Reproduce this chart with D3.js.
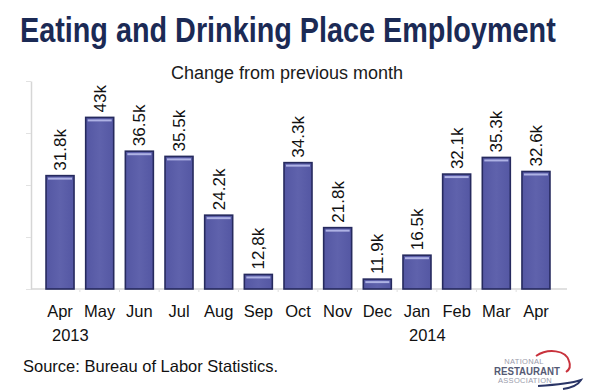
<!DOCTYPE html>
<html>
<head>
<meta charset="utf-8">
<script src="https://cdn.jsdelivr.net/npm/d3@7"></script>
<style>
  html, body { margin: 0; padding: 0; background: #fff; }
  svg { display: block; font-family: "Liberation Sans", Arial, sans-serif; }
</style>
</head>
<body>
<svg id="chart" width="600" height="390"></svg>
<script>
// ---- data ----
const months = ["Apr", "May", "Jun", "Jul", "Aug", "Sep", "Oct", "Nov", "Dec", "Jan", "Feb", "Mar", "Apr"];
const years = ["2013", "", "", "", "", "", "", "", "", "2014", "", "", ""];
const values = [31.8, 43, 36.5, 35.5, 24.2, 12.8, 34.3, 21.8, 11.9, 16.5, 32.1, 35.3, 32.6];
const valueLabels = ["31.8k", "43k", "36.5k", "35.5k", "24.2k", "12,8k", "34.3k", "21.8k", "11.9k", "16.5k", "32.1k", "35.3k", "32.6k"];
const yTicks = [10, 20, 30, 40, 50];
const title = "Eating and Drinking Place Employment";
const subtitle = "Change from previous month";
const source = "Source: Bureau of Labor Statistics.";

// ---- layout ----
const svg = d3.select("#chart");
const idx = d3.range(months.length);

const x = d3.scaleBand()
  .domain(idx)
  .range([40.2, 555.8])
  .paddingInner(0.294)
  .paddingOuter(0.147);

const y = d3.scaleLinear().domain([10, 50]).range([289, 81]);

// defs: bar gradient
const defs = svg.append("defs");
const grad = defs.append("linearGradient").attr("id", "barGrad")
  .attr("x1", 0).attr("x2", 1).attr("y1", 0).attr("y2", 0);
grad.append("stop").attr("offset", "0%").attr("stop-color", "#5457a3");
grad.append("stop").attr("offset", "50%").attr("stop-color", "#5f62ac");
grad.append("stop").attr("offset", "100%").attr("stop-color", "#5457a3");

// titles (title is horizontally condensed like the reference)
const titleText = svg.append("text")
  .attr("font-size", 35).attr("font-weight", "bold")
  .attr("fill", "#1b2a55")
  .text(title);
const natural = titleText.node().getComputedTextLength();
const sx = 536 / natural;
titleText.attr("transform", `translate(20,42) scale(${sx},1)`);

svg.append("text")
  .attr("x", 287).attr("y", 79)
  .attr("text-anchor", "middle")
  .attr("font-size", 18).attr("fill", "#1a1a1a")
  .text(subtitle);

// y axis (ticks only, no labels)
const yAxis = svg.append("g")
  .attr("transform", "translate(31,0)")
  .call(d3.axisLeft(y).tickValues(yTicks).tickFormat("").tickSize(5).tickSizeOuter(0));
yAxis.select(".domain").attr("stroke", "#d6d6d6").attr("stroke-width", 1.5);
yAxis.selectAll(".tick line").attr("stroke", "#e2e2e2");

// x axis baseline with faint boundary ticks
const xAxis = svg.append("g").attr("transform", "translate(0,289)");
xAxis.append("line")
  .attr("x1", 31).attr("x2", 567)
  .attr("stroke", "#d6d6d6").attr("stroke-width", 1.5);
xAxis.selectAll("line.bt")
  .data(idx.slice(1))
  .join("line")
  .attr("class", "bt")
  .attr("x1", d => x(d) - x.step() * x.paddingInner() / 2)
  .attr("x2", d => x(d) - x.step() * x.paddingInner() / 2)
  .attr("y1", 0).attr("y2", 3)
  .attr("stroke", "#e0e0e0");

// bars
const bars = svg.append("g");
bars.selectAll("rect.bar")
  .data(idx)
  .join("rect")
  .attr("class", "bar")
  .attr("x", d => x(d))
  .attr("y", d => y(values[d]))
  .attr("width", x.bandwidth())
  .attr("height", d => y(10) - y(values[d]))
  .attr("fill", "url(#barGrad)")
  .attr("stroke", "#262a5e")
  .attr("stroke-width", 1.6);

// highlight stripe near top of each bar
bars.selectAll("rect.hl")
  .data(idx)
  .join("rect")
  .attr("class", "hl")
  .attr("x", d => x(d) + 2)
  .attr("y", d => y(values[d]) + 2)
  .attr("width", x.bandwidth() - 4)
  .attr("height", 2)
  .attr("fill", "#aeb2e4");

// value labels (rotated)
svg.append("g").selectAll("text")
  .data(idx)
  .join("text")
  .attr("transform", d => `translate(${x(d) + x.bandwidth() / 2},${y(values[d]) - 5}) rotate(-90)`)
  .attr("dy", "0.36em")
  .attr("font-size", 17)
  .attr("fill", "#111")
  .text(d => valueLabels[d]);

// month labels
svg.append("g").selectAll("text")
  .data(idx)
  .join("text")
  .attr("x", d => x(d) + x.bandwidth() / 2)
  .attr("y", 317)
  .attr("text-anchor", "middle")
  .attr("font-size", 16.5)
  .attr("fill", "#111")
  .text(d => months[d]);

// year labels
svg.append("g").selectAll("text")
  .data(idx.filter(d => years[d] !== ""))
  .join("text")
  .attr("x", d => x(d) + x.bandwidth() / 2 - 8)
  .attr("y", 341)
  .attr("font-size", 16.5)
  .attr("fill", "#111")
  .text(d => years[d]);

// source
svg.append("text")
  .attr("x", 23).attr("y", 372)
  .attr("font-size", 16.5)
  .attr("fill", "#111")
  .text(source);

// logo (National Restaurant Association)
const logo = svg.append("g");
logo.append("path")
  .attr("d", "M536,356 C548,348 566,350 569,361 C571,366 569,370 566,372")
  .attr("fill", "none").attr("stroke", "#c8323c").attr("stroke-width", 2);
logo.append("path")
  .attr("d", "M538,386 C554,385 572,383 581,380 C578,385 570,388 563,389")
  .attr("fill", "none").attr("stroke", "#2a3566").attr("stroke-width", 2);
logo.append("text")
  .attr("x", 524).attr("y", 364).attr("text-anchor", "middle")
  .attr("font-size", 7.5).attr("fill", "#9a9cab").attr("letter-spacing", 0.3)
  .text("NATIONAL");
logo.append("text")
  .attr("x", 527).attr("y", 375).attr("text-anchor", "middle")
  .attr("font-size", 10.5).attr("font-weight", "bold").attr("fill", "#555a74")
  .attr("textLength", 66).attr("lengthAdjust", "spacingAndGlyphs")
  .text("RESTAURANT");
logo.append("text")
  .attr("x", 525).attr("y", 383).attr("text-anchor", "middle")
  .attr("font-size", 7.5).attr("fill", "#9a9cab").attr("letter-spacing", 0.3)
  .text("ASSOCIATION");
</script>
</body>
</html>
